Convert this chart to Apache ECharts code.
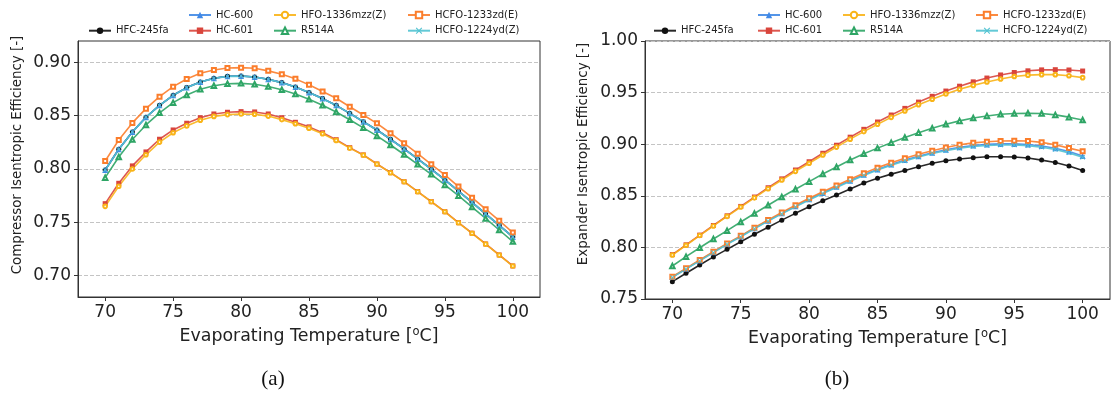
<!DOCTYPE html>
<html>
<head>
<meta charset="utf-8">
<script src="https://cdn.jsdelivr.net/npm/echarts@6/dist/echarts.min.js"></script>
<style>
html,body{margin:0;padding:0;background:#fff;}
#c{width:1111px;height:396px;}
</style>
</head>
<body>
<div id="c"></div>
<script>
// ---------- DATA ----------
const temps = [70,71,72,73,74,75,76,77,78,79,80,81,82,83,84,85,86,87,88,89,90,91,92,93,94,95,96,97,98,99,100];
const seriesNames = ['HFC-245fa','HC-600','HC-601','HFO-1336mzz(Z)','R514A','HCFO-1233zd(E)','HCFO-1224yd(Z)'];
const xTicks = [70,75,80,85,90,95,100];
const yTicksComp = [0.70,0.75,0.80,0.85,0.90];
const yTicksExp = [0.75,0.80,0.85,0.90,0.95,1.00];

// (a) Compressor isentropic efficiency
const compHFC245fa = [0.7991,0.8185,0.8347,0.8485,0.8597,0.8691,0.8763,0.8816,0.8850,0.8869,0.8872,0.8863,0.8841,0.8810,0.8769,0.8718,0.8660,0.8597,0.8522,0.8444,0.8366,0.8279,0.8188,0.8094,0.7998,0.7897,0.7793,0.7688,0.7580,0.7472,0.7363];
const compHC600 = [0.7991,0.8185,0.8347,0.8485,0.8597,0.8691,0.8763,0.8816,0.8850,0.8869,0.8872,0.8863,0.8841,0.8810,0.8769,0.8718,0.8660,0.8597,0.8522,0.8444,0.8366,0.8279,0.8188,0.8094,0.7998,0.7897,0.7793,0.7688,0.7580,0.7472,0.7363];
const compHC601 = [0.7675,0.7866,0.8029,0.8160,0.8279,0.8366,0.8429,0.8481,0.8516,0.8532,0.8538,0.8535,0.8516,0.8481,0.8438,0.8395,0.8340,0.8275,0.8200,0.8132,0.8047,0.7966,0.7881,0.7788,0.7694,0.7600,0.7497,0.7398,0.7297,0.7194,0.7091];
const compHFO1336 = [0.7650,0.7838,0.8000,0.8133,0.8252,0.8340,0.8404,0.8457,0.8493,0.8510,0.8515,0.8513,0.8496,0.8463,0.8424,0.8383,0.8330,0.8268,0.8196,0.8130,0.8046,0.7965,0.7880,0.7787,0.7693,0.7599,0.7496,0.7397,0.7296,0.7193,0.7090];
const compR514A = [0.7919,0.8112,0.8276,0.8413,0.8527,0.8622,0.8694,0.8747,0.8780,0.8799,0.8803,0.8795,0.8773,0.8743,0.8703,0.8653,0.8597,0.8535,0.8462,0.8386,0.8310,0.8225,0.8136,0.8044,0.7950,0.7851,0.7750,0.7643,0.7537,0.7428,0.7320];
const comp1233zd = [0.8075,0.8272,0.8432,0.8566,0.8678,0.8772,0.8844,0.8897,0.8928,0.8947,0.8950,0.8944,0.8920,0.8888,0.8845,0.8790,0.8727,0.8663,0.8584,0.8506,0.8428,0.8335,0.8241,0.8144,0.8044,0.7944,0.7835,0.7731,0.7623,0.7516,0.7404];
const comp1224yd = [0.7990,0.8184,0.8346,0.8484,0.8596,0.8690,0.8762,0.8815,0.8849,0.8868,0.8871,0.8862,0.8840,0.8809,0.8768,0.8717,0.8659,0.8596,0.8521,0.8443,0.8365,0.8278,0.8187,0.8093,0.7997,0.7896,0.7792,0.7687,0.7579,0.7471,0.7362];

// (b) Expander isentropic efficiency
const expHFC245fa = [0.7668,0.7749,0.7829,0.7908,0.7981,0.8055,0.8127,0.8195,0.8264,0.8330,0.8393,0.8452,0.8508,0.8566,0.8625,0.8670,0.8710,0.8746,0.8782,0.8815,0.8840,0.8857,0.8869,0.8878,0.8879,0.8876,0.8866,0.8846,0.8822,0.8789,0.8745];
const expHC600 = [0.7712,0.7793,0.7874,0.7954,0.8034,0.8107,0.8185,0.8259,0.8330,0.8399,0.8466,0.8528,0.8587,0.8646,0.8703,0.8756,0.8804,0.8846,0.8884,0.8917,0.8946,0.8970,0.8987,0.8998,0.9003,0.9003,0.8997,0.8983,0.8961,0.8929,0.8886];
const expHC601 = [0.7930,0.8025,0.8119,0.8212,0.8306,0.8397,0.8488,0.8578,0.8664,0.8750,0.8830,0.8912,0.8990,0.9068,0.9144,0.9215,0.9283,0.9347,0.9408,0.9464,0.9515,0.9562,0.9604,0.9641,0.9671,0.9695,0.9711,0.9720,0.9722,0.9719,0.9709];
const expHFO1336 = [0.7926,0.8021,0.8115,0.8208,0.8301,0.8391,0.8480,0.8569,0.8653,0.8737,0.8815,0.8895,0.8972,0.9049,0.9122,0.9193,0.9260,0.9322,0.9383,0.9436,0.9487,0.9533,0.9570,0.9603,0.9632,0.9656,0.9669,0.9674,0.9674,0.9664,0.9645];
const expR514A = [0.7820,0.7910,0.7997,0.8081,0.8162,0.8246,0.8328,0.8408,0.8488,0.8563,0.8637,0.8711,0.8779,0.8847,0.8908,0.8962,0.9015,0.9065,0.9112,0.9154,0.9193,0.9226,0.9254,0.9274,0.9290,0.9298,0.9300,0.9297,0.9284,0.9262,0.9234];
const exp1233zd = [0.7716,0.7797,0.7878,0.7958,0.8039,0.8112,0.8191,0.8266,0.8338,0.8408,0.8476,0.8539,0.8599,0.8660,0.8718,0.8773,0.8821,0.8863,0.8902,0.8937,0.8968,0.8995,0.9013,0.9024,0.9031,0.9034,0.9031,0.9018,0.8994,0.8962,0.8932];
const exp1224yd = [0.7709,0.7790,0.7870,0.7950,0.8030,0.8103,0.8181,0.8255,0.8325,0.8394,0.8460,0.8522,0.8581,0.8640,0.8696,0.8749,0.8797,0.8838,0.8876,0.8909,0.8937,0.8961,0.8977,0.8988,0.8992,0.8992,0.8986,0.8971,0.8949,0.8916,0.8873];

// ---------- STYLE ----------
const colors = {
  'HFC-245fa':'#111111',
  'HC-600':'#4189e6',
  'HC-601':'#d9453c',
  'HFO-1336mzz(Z)':'#f9b418',
  'R514A':'#2ea565',
  'HCFO-1233zd(E)':'#fb7d2b',
  'HCFO-1224yd(Z)':'#52c3d1'
};
const xMark = 'path://M0,1.2L1.2,0L5,3.8L8.8,0L10,1.2L6.2,5L10,8.8L8.8,10L5,6.2L1.2,10L0,8.8L3.8,5Z';
const symbols = {
  'HFC-245fa':['circle',5],
  'HC-600':['triangle',6],
  'HC-601':['rect',5],
  'HFO-1336mzz(Z)':['emptyCircle',3.6],
  'R514A':['emptyTriangle',4.5],
  'HCFO-1233zd(E)':['emptyRect',4],
  'HCFO-1224yd(Z)':[xMark,5]
};
const compData = {
  'HFC-245fa':compHFC245fa,'HC-600':compHC600,'HC-601':compHC601,'HFO-1336mzz(Z)':compHFO1336,
  'R514A':compR514A,'HCFO-1233zd(E)':comp1233zd,'HCFO-1224yd(Z)':comp1224yd
};
const expData = {
  'HFC-245fa':expHFC245fa,'HC-600':expHC600,'HC-601':expHC601,'HFO-1336mzz(Z)':expHFO1336,
  'R514A':expR514A,'HCFO-1233zd(E)':exp1233zd,'HCFO-1224yd(Z)':exp1224yd
};

function mkSeries(name, vals, idx){
  const c = colors[name];
  const isEmpty = String(symbols[name][0]).indexOf('empty')===0;
  return {
    name: name, type:'line', xAxisIndex: idx, yAxisIndex: idx,
    data: temps.map((t,i)=>[t, vals[i]]),
    symbol: symbols[name][0], symbolSize: symbols[name][1],
    showAllSymbol: true,
    lineStyle:{color:c, width:1.6, opacity:0.9},
    itemStyle: isEmpty ? {color:c, borderColor:c, borderWidth:1} : {color:c},
    emphasis:{disabled:true},
    animation:false,
    z: 2
  };
}
const series = [];
seriesNames.forEach(n=>series.push(mkSeries(n, compData[n], 0)));
seriesNames.forEach(n=>series.push(mkSeries(n, expData[n], 1)));

const font = 'DejaVu Sans';
function xAx(idx){
  return {
    type:'value', gridIndex: idx, min:68, max:102,
    axisLine:{show:true, lineStyle:{color:'#333', width:1}},
    axisTick:{show:true, length:4, lineStyle:{color:'#333'}, customValues: xTicks},
    axisLabel:{customValues: xTicks, fontFamily: font, fontSize:17, color:'#222', margin:7},
    splitLine:{show:false},
    name:'Evaporating Temperature [{sup|o}C]',
    nameLocation:'middle', nameGap: 28,
    nameTextStyle:{fontFamily: font, fontSize:17.4, color:'#222',
      rich:{sup:{fontFamily: font, fontSize:11.5, verticalAlign:'top', padding:[0,0,10,0], color:'#222'}}}
  };
}
function yAx(idx, mn, mx, ticks){
  return {
    type:'value', gridIndex: idx, min:mn, max:mx,
    axisLine:{show:true, lineStyle:{color:'#333', width:1}},
    axisTick:{show:true, length:4, lineStyle:{color:'#333'}, customValues: ticks},
    axisLabel:{customValues: ticks, fontFamily: font, fontSize:17, color:'#222', margin:7,
      formatter: v => v.toFixed(2)},
    splitLine:{show:true, lineStyle:{color:'#c4c4c4', type:[4,2], width:1}}
  };
}

function legends(off){
  const lt = {fontFamily: font, fontSize:10, color:'#222', lineHeight:12};
  const base = {orient:'vertical', itemWidth:22, itemHeight:8, itemGap:3.7, padding:0, textStyle: lt, selectedMode:false};
  return [
    Object.assign({}, base, {data:['HFC-245fa'], left: off.a, top: 24.7}),
    Object.assign({}, base, {data:['HC-600','HC-601'], left: off.b, top: 9}),
    Object.assign({}, base, {data:['HFO-1336mzz(Z)','R514A'], left: off.c, top: 9}),
    Object.assign({}, base, {data:['HCFO-1233zd(E)','HCFO-1224yd(Z)'], left: off.d, top: 9})
  ];
}

const yNameStyle = {fontFamily: font, fontSize:13.4, fill:'#222', textAlign:'center', textVerticalAlign:'middle'};
const option = {
  backgroundColor:'#fff',
  animation:false,
  grid:[
    {left:78, right:571, top:41, bottom:99, show:true, borderColor:'#333', borderWidth:1, containLabel:false},
    {left:645, right:1, top:41, bottom:97, show:true, borderColor:'#333', borderWidth:1, containLabel:false}
  ],
  legend: legends({a:88,b:188,c:273,d:407}).concat(legends({a:653,b:757,c:842,d:975})),
  xAxis:[xAx(0), xAx(1)],
  yAxis:[ yAx(0, 0.68, 0.92, yTicksComp), yAx(1, 0.75, 1.00, yTicksExp) ],
  graphic:[
    {type:'text', x:18, y:155, rotation:Math.PI/2, style:Object.assign({text:'Compressor Isentropic Efficiency [-]'}, yNameStyle)},
    {type:'text', x:584, y:154, rotation:Math.PI/2, style:Object.assign({text:'Expander Isentropic Efficiency [-]'}, yNameStyle)},
    {type:'text', style:{text:'(a)', fontFamily:'Liberation Serif', fontSize:21, fill:'#111', textAlign:'center', textVerticalAlign:'middle', x:273, y:379}},
    {type:'text', style:{text:'(b)', fontFamily:'Liberation Serif', fontSize:21, fill:'#111', textAlign:'center', textVerticalAlign:'middle', x:837, y:379}}
  ],
  series: series
};

const chart = echarts.init(document.getElementById('c'), null, {renderer:'canvas'});
chart.setOption(option);
</script>
</body>
</html>
